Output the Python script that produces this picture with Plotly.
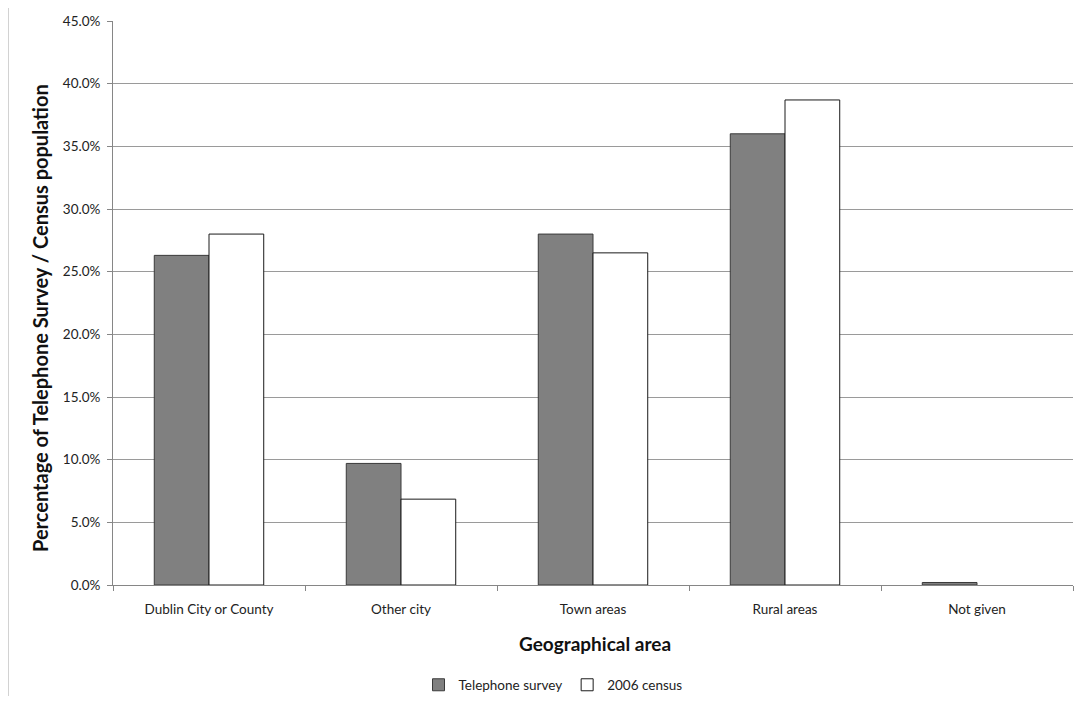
import plotly.graph_objects as go

categories = ["Dublin City or County", "Other city", "Town areas", "Rural areas", "Not given"]
telephone_survey = [26.3, 9.7, 28.0, 36.0, 0.2]
census_2006 = [28.0, 6.85, 26.5, 38.7, 0.0]
y_ticks = [0, 5, 10, 15, 20, 25, 30, 35, 40, 45]
y_tick_labels = ["0.0%", "5.0%", "10.0%", "15.0%", "20.0%", "25.0%", "30.0%", "35.0%", "40.0%", "45.0%"]

# the page body adds an 8px offset; figure is sized to fit the window
OFF = 8
W, H = 1088 - 2 * OFF, 704 - 2 * OFF
# target plot area in screen pixels: x 113..1073, y 21..585
SX0, SX1, SY0, SY1 = 113, 1073, 21, 585
L, R, T, B = SX0 - OFF, (W + OFF) - SX1, SY0 - OFF, (H + OFF) - SY1
pw, ph = W - L - R, H - T - B

def px(x):
    return (x - SX0) / pw

def py(y):
    return (SY1 - y) / ph

FONT = "Lato"

fig = go.Figure()
fig.add_trace(go.Bar(
    x=categories, y=telephone_survey, name="Telephone survey",
    marker=dict(color="#808080", line=dict(color="#3a3a3a", width=1)),
))
fig.add_trace(go.Bar(
    x=categories, y=census_2006, name="2006 census",
    marker=dict(color="#ffffff",
                line=dict(color="#1a1a1a", width=[1 if v > 0 else 0 for v in census_2006])),
))

fig.update_layout(
    width=W, height=H,
    margin=dict(l=L, r=R, t=T, b=B, autoexpand=False),
    paper_bgcolor="#ffffff",
    plot_bgcolor="rgba(0,0,0,0)",
    font=dict(family=FONT, size=13.5, color="#222222"),
    barmode="group",
    bargap=0.43,
    bargroupgap=0,
    showlegend=True,
    legend=dict(
        orientation="h", x=px(553), y=py(685), xanchor="center", yanchor="middle",
        font=dict(size=13.5, family=FONT), bgcolor="rgba(0,0,0,0)",
        itemwidth=30, traceorder="normal",
    ),
    xaxis=dict(
        showline=True, linecolor="#868686", linewidth=1,
        ticks="outside", tickson="boundaries", ticklen=5, tickcolor="#868686",
        ticklabelstandoff=12,
        showgrid=False, tickfont=dict(size=13.5, family=FONT),
    ),
    yaxis=dict(
        range=[0, 45], tickvals=y_ticks, ticktext=y_tick_labels,
        showline=True, linecolor="#868686", linewidth=1,
        ticks="outside", ticklen=5, tickcolor="#868686",
        ticklabelstandoff=4,
        showgrid=True, gridcolor="#9a9a9a", gridwidth=1,
        zeroline=False, tickfont=dict(size=13.5, family=FONT),
    ),
    shapes=[
        dict(type="rect", xref="paper", yref="paper",
             x0=px(8), x1=px(1100), y0=py(720), y1=py(4),
             fillcolor="#ffffff", line=dict(color="#a6a6a6", width=1), layer="below"),
    ],
    annotations=[
        dict(text="<b>Percentage of Telephone Survey / Census population</b>",
             xref="paper", yref="paper", x=px(40), y=py(318), textangle=-90,
             showarrow=False, font=dict(size=20, family=FONT, color="#111111"),
             xanchor="center", yanchor="middle"),
        dict(text="<b>Geographical area</b>",
             xref="paper", yref="paper", x=px(595), y=py(643),
             showarrow=False, font=dict(size=19, family=FONT, color="#111111"),
             xanchor="center", yanchor="middle"),
    ],
)

fig.write_html("out.html")
